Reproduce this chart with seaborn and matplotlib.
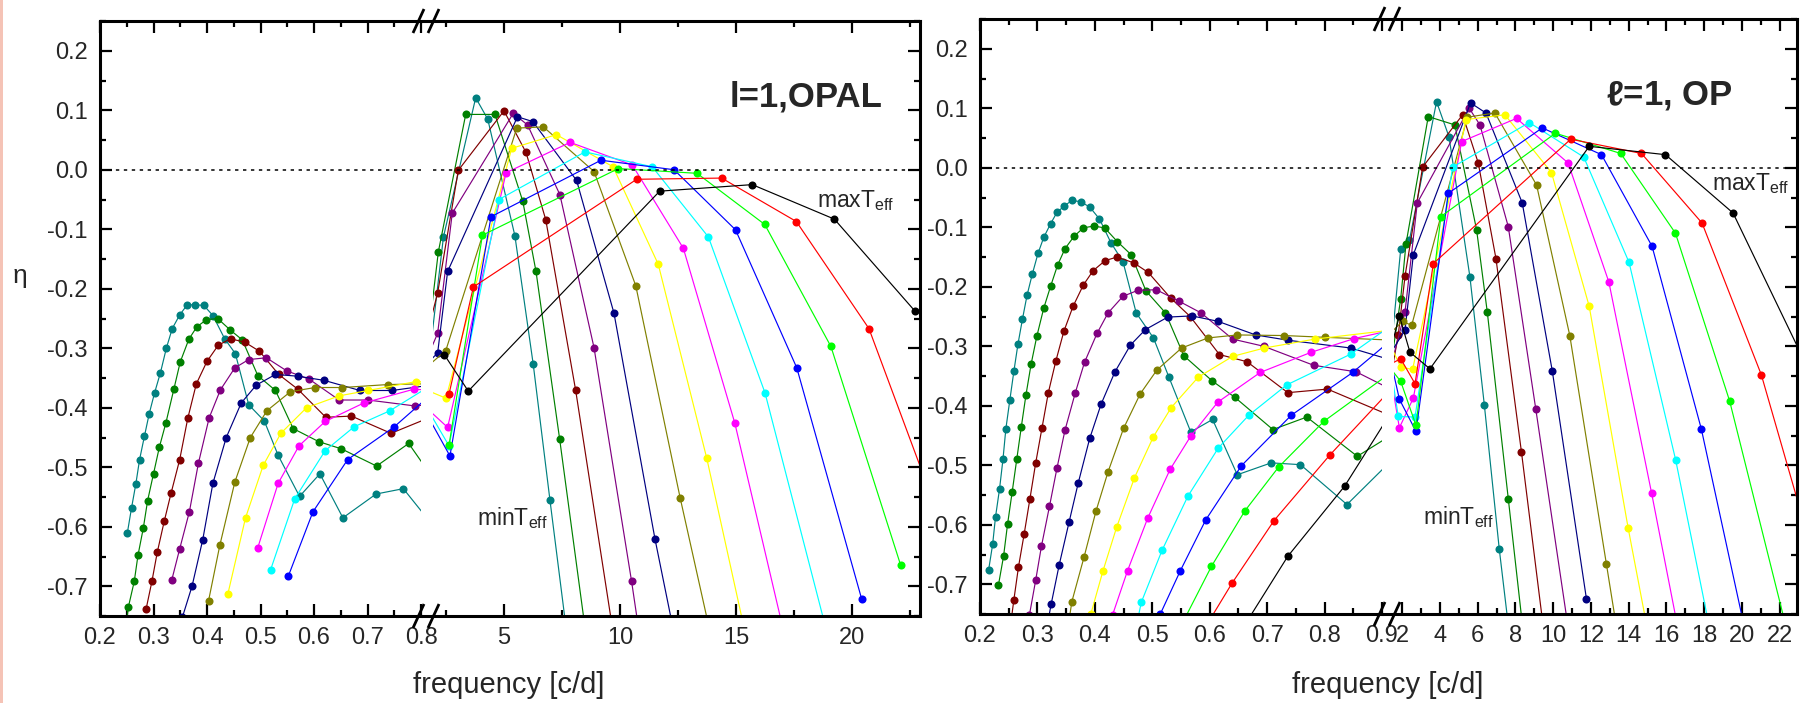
import matplotlib
matplotlib.use("Agg")
import matplotlib.pyplot as plt
import numpy as np
import pandas as pd
import seaborn as sns
from matplotlib.lines import Line2D
from matplotlib.patches import Rectangle
from matplotlib.ticker import FixedLocator, FuncFormatter

# ---------------------------------------------------------------------------
# Instability parameter eta versus mode frequency, dipole modes (l = 1).
# One curve per model, ordered from the coolest (teal) to the hottest (black).
# ---------------------------------------------------------------------------
SERIES = ["teal", "green", "maroon", "purple", "navy", "olive", "yellow",
          "magenta", "cyan", "blue", "lime", "red", "black"]
PALETTE = {"teal": "#008080", "green": "#008000", "maroon": "#800000",
           "purple": "#800080", "navy": "#000080", "olive": "#808000",
           "yellow": "#ffff00", "magenta": "#ff00ff", "cyan": "#00ffff",
           "blue": "#0000ff", "lime": "#00ff00", "red": "#ff0000",
           "black": "#000000"}

# ---- OPAL opacities --------------------------------------------------------
OPAL_TEAL_F = [0.251, 0.259, 0.267, 0.274, 0.283, 0.292, 0.302, 0.313, 0.324, 0.335,
               0.349, 0.363, 0.377, 0.394, 0.411, 0.433, 0.453, 0.478, 0.507, 0.533,
               0.573, 0.611, 0.654, 0.716, 0.767, 0.85,
               2.39, 3.78, 4.30, 5.47, 6.26, 6.98, 8.00]
OPAL_TEAL_ETA = [-0.611, -0.568, -0.528, -0.487, -0.448, -0.410, -0.375, -0.341, -0.300, -0.267,
                 -0.244, -0.227, -0.227, -0.228, -0.245, -0.284, -0.309, -0.395, -0.422, -0.480,
                 -0.549, -0.511, -0.585, -0.545, -0.536, -0.629,
                 -0.113, 0.121, 0.085, -0.111, -0.327, -0.555, -0.87]

OPAL_GREEN_F = [0.247, 0.253, 0.264, 0.271, 0.281, 0.289, 0.300, 0.311, 0.323, 0.338,
                0.350, 0.366, 0.381, 0.399, 0.420, 0.443, 0.466, 0.495, 0.528, 0.561,
                0.609, 0.651, 0.717, 0.777, 0.86,
                2.17, 3.35, 4.61, 5.81, 6.38, 7.40, 8.70]
OPAL_GREEN_ETA = [-0.78, -0.735, -0.692, -0.648, -0.602, -0.556, -0.511, -0.466, -0.426, -0.369,
                  -0.323, -0.285, -0.264, -0.252, -0.250, -0.269, -0.286, -0.346, -0.371, -0.435,
                  -0.457, -0.469, -0.498, -0.460, -0.567,
                  -0.138, 0.093, 0.093, -0.053, -0.171, -0.453, -0.83]

OPAL_MAROON_F = [0.286, 0.297, 0.307, 0.320, 0.333, 0.349, 0.364, 0.380, 0.400, 0.421,
                 0.444, 0.471, 0.498, 0.534, 0.570, 0.622, 0.670, 0.744, 0.85,
                 2.14, 3.03, 5.00, 5.95, 6.80, 8.09, 9.86]
OPAL_MAROON_ETA = [-0.739, -0.692, -0.643, -0.591, -0.543, -0.487, -0.418, -0.360, -0.322, -0.295,
                   -0.284, -0.290, -0.305, -0.344, -0.369, -0.416, -0.414, -0.443, -0.404,
                   -0.207, -0.001, 0.099, 0.029, -0.084, -0.371, -0.817]

OPAL_PURPLE_F = [0.334, 0.349, 0.367, 0.384, 0.404, 0.425, 0.452, 0.478, 0.511, 0.549,
                 0.591, 0.647, 0.701, 0.789,
                 2.14, 2.77, 5.40, 6.02, 7.41, 8.88, 10.50, 11.10]
OPAL_PURPLE_ETA = [-0.690, -0.637, -0.575, -0.493, -0.417, -0.370, -0.333, -0.319, -0.316, -0.338,
                   -0.352, -0.387, -0.387, -0.397,
                   -0.275, -0.073, 0.095, 0.075, -0.042, -0.299, -0.692, -0.85]

OPAL_NAVY_F = [0.354, 0.372, 0.392, 0.411, 0.436, 0.464, 0.492, 0.528, 0.570, 0.619,
               0.686, 0.746, 0.85,
               2.14, 2.57, 5.58, 6.24, 8.13, 9.74, 11.51, 12.70]
OPAL_NAVY_ETA = [-0.752, -0.700, -0.622, -0.527, -0.450, -0.392, -0.362, -0.344, -0.347, -0.354,
                 -0.371, -0.371, -0.358,
                 -0.308, -0.171, 0.089, 0.081, -0.018, -0.241, -0.621, -0.85]

OPAL_OLIVE_F = [0.403, 0.424, 0.452, 0.481, 0.512, 0.556, 0.602, 0.653, 0.738, 0.85,
                2.49, 5.55, 6.70, 8.88, 10.68, 12.59, 14.30]
OPAL_OLIVE_ETA = [-0.724, -0.631, -0.525, -0.450, -0.405, -0.373, -0.366, -0.366, -0.361, -0.359,
                  -0.304, 0.070, 0.072, -0.003, -0.195, -0.551, -0.85]

OPAL_YELLOW_F = [0.439, 0.472, 0.505, 0.538, 0.586, 0.647, 0.701, 0.791,
                 2.50, 5.33, 7.26, 9.70, 11.65, 13.74, 15.80]
OPAL_YELLOW_ETA = [-0.713, -0.585, -0.497, -0.443, -0.400, -0.380, -0.371, -0.356,
                   -0.384, 0.036, 0.059, 0.005, -0.159, -0.485, -0.85]

OPAL_MAGENTA_F = [0.495, 0.533, 0.572, 0.621, 0.693, 0.786,
                  2.57, 5.09, 7.85, 10.53, 12.73, 14.95, 17.50]
OPAL_MAGENTA_ETA = [-0.635, -0.527, -0.464, -0.423, -0.392, -0.369,
                    -0.433, -0.005, 0.046, 0.008, -0.132, -0.426, -0.85]

OPAL_CYAN_F = [0.519, 0.564, 0.621, 0.675, 0.742, 0.85,
               2.63, 4.78, 8.49, 11.39, 13.81, 16.25, 19.40]
OPAL_CYAN_ETA = [-0.672, -0.553, -0.472, -0.432, -0.405, -0.345,
                 -0.464, -0.050, 0.030, 0.005, -0.113, -0.375, -0.85]

OPAL_BLUE_F = [0.552, 0.598, 0.663, 0.750, 0.85,
               2.67, 4.44, 9.18, 12.33, 14.98, 17.62, 20.42]
OPAL_BLUE_ETA = [-0.683, -0.575, -0.487, -0.432, -0.353,
                 -0.481, -0.079, 0.016, 0.000, -0.101, -0.333, -0.722]

OPAL_LIME_F = [2.63, 4.07, 9.93, 13.32, 16.24, 19.09, 22.10]
OPAL_LIME_ETA = [-0.463, -0.110, 0.002, -0.006, -0.092, -0.297, -0.665]

OPAL_RED_F = [2.63, 3.68, 10.72, 14.38, 17.60, 20.73, 24.00]
OPAL_RED_ETA = [-0.377, -0.197, -0.016, -0.014, -0.087, -0.267, -0.61]

OPAL_BLACK_F = [2.43, 3.46, 11.71, 15.70, 19.24, 22.70]
OPAL_BLACK_ETA = [-0.311, -0.372, -0.036, -0.025, -0.083, -0.237]

# ---- OP opacities ----------------------------------------------------------
OP_TEAL_F = [0.215, 0.222, 0.227, 0.234, 0.240, 0.245, 0.252, 0.259, 0.266, 0.274,
             0.282, 0.291, 0.301, 0.311, 0.323, 0.334, 0.347, 0.360, 0.375, 0.391,
             0.408, 0.428, 0.449, 0.472, 0.502, 0.529, 0.567, 0.605, 0.648, 0.707,
             0.758, 0.839, 0.95,
             1.92, 2.38, 3.82, 4.48, 5.59, 6.35, 7.14, 8.00]
OP_TEAL_ETA = [-0.676, -0.633, -0.587, -0.540, -0.490, -0.439, -0.390, -0.342, -0.297, -0.254,
               -0.214, -0.179, -0.144, -0.117, -0.094, -0.075, -0.064, -0.055, -0.057, -0.066,
               -0.086, -0.126, -0.158, -0.244, -0.286, -0.352, -0.444, -0.423, -0.516, -0.496,
               -0.499, -0.566, -0.460,
               -0.137, -0.122, 0.111, 0.052, -0.184, -0.398, -0.640, -0.87]

OP_GREEN_F = [0.232, 0.241, 0.248, 0.256, 0.264, 0.272, 0.280, 0.289, 0.299, 0.311,
              0.323, 0.335, 0.348, 0.364, 0.380, 0.398, 0.417, 0.439, 0.463, 0.489,
              0.523, 0.555, 0.604, 0.644, 0.710, 0.769, 0.857, 0.95,
              1.92, 2.20, 3.38, 4.79, 5.94, 6.51, 7.62, 8.80]
OP_GREEN_ETA = [-0.702, -0.653, -0.599, -0.545, -0.490, -0.435, -0.382, -0.330, -0.283, -0.236,
                -0.199, -0.164, -0.136, -0.115, -0.101, -0.098, -0.101, -0.124, -0.146, -0.207,
                -0.244, -0.316, -0.358, -0.386, -0.440, -0.419, -0.485, -0.429,
                -0.220, -0.128, 0.086, 0.072, -0.104, -0.243, -0.556, -0.89]

OP_MAROON_F = [0.253, 0.259, 0.267, 0.277, 0.287, 0.297, 0.308, 0.319, 0.332, 0.346,
               0.362, 0.380, 0.397, 0.418, 0.439, 0.468, 0.493, 0.532, 0.566, 0.617,
               0.665, 0.736, 0.805, 0.95,
               1.79, 2.15, 3.08, 5.20, 6.03, 6.97, 8.32, 9.90]
OP_MAROON_ETA = [-0.77, -0.726, -0.671, -0.615, -0.556, -0.496, -0.437, -0.378, -0.325, -0.275,
                 -0.233, -0.197, -0.173, -0.156, -0.150, -0.160, -0.176, -0.219, -0.250, -0.314,
                 -0.326, -0.378, -0.372, -0.431,
                 -0.281, -0.182, 0.001, 0.089, 0.008, -0.153, -0.478, -0.88]

OP_PURPLE_F = [0.286, 0.297, 0.307, 0.321, 0.334, 0.348, 0.366, 0.382, 0.404, 0.423,
               0.449, 0.475, 0.507, 0.546, 0.585, 0.640, 0.694, 0.781, 0.855, 0.95,
               2.15, 2.80, 5.55, 6.12, 7.62, 9.08, 11.20]
OP_PURPLE_ETA = [-0.752, -0.693, -0.636, -0.569, -0.505, -0.441, -0.378, -0.327, -0.278, -0.244,
                 -0.216, -0.206, -0.205, -0.224, -0.244, -0.288, -0.300, -0.332, -0.343, -0.389,
                 -0.242, -0.059, 0.100, 0.072, -0.099, -0.406, -0.86]

OP_NAVY_F = [0.315, 0.324, 0.338, 0.355, 0.371, 0.391, 0.411, 0.435, 0.462, 0.488,
             0.527, 0.569, 0.614, 0.680, 0.737, 0.846, 0.95,
             2.15, 2.59, 5.62, 6.44, 8.36, 9.95, 11.76]
OP_NAVY_ETA = [-0.78, -0.733, -0.667, -0.596, -0.530, -0.455, -0.397, -0.343, -0.298, -0.272,
               -0.251, -0.249, -0.258, -0.281, -0.290, -0.303, -0.333,
               -0.273, -0.146, 0.109, 0.092, -0.059, -0.341, -0.724]

OP_OLIVE_F = [0.352, 0.360, 0.381, 0.402, 0.423, 0.450, 0.479, 0.508, 0.551, 0.597,
              0.648, 0.730, 0.801, 0.95,
              2.02, 2.50, 5.45, 6.91, 9.12, 10.88, 12.82, 13.90]
OP_OLIVE_ETA = [-0.78, -0.729, -0.655, -0.577, -0.511, -0.438, -0.380, -0.340, -0.303, -0.286,
                -0.281, -0.282, -0.285, -0.291,
                -0.258, -0.265, 0.085, 0.092, -0.029, -0.282, -0.666, -0.88]

OP_YELLOW_F = [0.385, 0.393, 0.414, 0.438, 0.469, 0.502, 0.533, 0.580, 0.640, 0.695,
               0.783, 0.95,
               1.92, 2.55, 5.38, 7.44, 9.91, 11.91, 13.97, 15.50]
OP_YELLOW_ETA = [-0.79, -0.750, -0.678, -0.604, -0.521, -0.452, -0.403, -0.352, -0.317, -0.303,
                 -0.288, -0.269,
                 -0.335, -0.339, 0.081, 0.089, -0.008, -0.233, -0.605, -0.86]

OP_MAGENTA_F = [0.420, 0.431, 0.457, 0.492, 0.531, 0.567, 0.614, 0.688, 0.777, 0.852, 0.95,
                1.85, 2.59, 5.15, 8.06, 10.79, 12.95, 15.21, 17.20]
OP_MAGENTA_ETA = [-0.79, -0.751, -0.677, -0.589, -0.507, -0.451, -0.394, -0.344, -0.310, -0.287, -0.266,
                  -0.437, -0.387, 0.044, 0.083, 0.008, -0.192, -0.546, -0.87]

OP_CYAN_F = [0.470, 0.481, 0.517, 0.562, 0.615, 0.668, 0.734, 0.846, 0.95,
             1.79, 2.68, 4.67, 8.73, 11.62, 14.02, 16.49, 18.90]
OP_CYAN_ETA = [-0.78, -0.730, -0.643, -0.552, -0.471, -0.416, -0.365, -0.313, -0.242,
               -0.418, -0.419, 0.001, 0.076, 0.018, -0.159, -0.491, -0.87]

OP_BLUE_F = [0.505, 0.514, 0.549, 0.593, 0.655, 0.742, 0.849, 0.95,
             1.85, 2.73, 4.44, 9.42, 12.56, 15.24, 17.85, 20.80]
OP_BLUE_ETA = [-0.79, -0.750, -0.677, -0.592, -0.501, -0.416, -0.344, -0.262,
               -0.389, -0.443, -0.043, 0.067, 0.022, -0.132, -0.439, -0.87]

OP_LIME_F = [0.550, 0.603, 0.661, 0.720, 0.799, 0.95,
             1.92, 2.73, 4.05, 10.12, 13.58, 16.48, 19.35, 22.80]
OP_LIME_ETA = [-0.77, -0.670, -0.577, -0.503, -0.426, -0.320,
               -0.359, -0.433, -0.082, 0.058, 0.024, -0.110, -0.392, -0.83]

OP_RED_F = [0.600, 0.639, 0.712, 0.809, 0.95,
            1.92, 2.68, 3.65, 10.93, 14.68, 17.89, 21.03, 23.50]
OP_RED_ETA = [-0.76, -0.698, -0.593, -0.483, -0.337,
              -0.321, -0.363, -0.161, 0.048, 0.024, -0.093, -0.348, -0.62]

OP_BLACK_F = [0.660, 0.736, 0.835, 0.95,
              1.85, 2.41, 3.47, 11.91, 15.95, 19.53, 24.00]
OP_BLACK_ETA = [-0.77, -0.653, -0.535, -0.359,
                -0.249, -0.310, -0.338, 0.036, 0.022, -0.076, -0.37]

OPAL = {"teal": (OPAL_TEAL_F, OPAL_TEAL_ETA), "green": (OPAL_GREEN_F, OPAL_GREEN_ETA),
        "maroon": (OPAL_MAROON_F, OPAL_MAROON_ETA), "purple": (OPAL_PURPLE_F, OPAL_PURPLE_ETA),
        "navy": (OPAL_NAVY_F, OPAL_NAVY_ETA), "olive": (OPAL_OLIVE_F, OPAL_OLIVE_ETA),
        "yellow": (OPAL_YELLOW_F, OPAL_YELLOW_ETA), "magenta": (OPAL_MAGENTA_F, OPAL_MAGENTA_ETA),
        "cyan": (OPAL_CYAN_F, OPAL_CYAN_ETA), "blue": (OPAL_BLUE_F, OPAL_BLUE_ETA),
        "lime": (OPAL_LIME_F, OPAL_LIME_ETA), "red": (OPAL_RED_F, OPAL_RED_ETA),
        "black": (OPAL_BLACK_F, OPAL_BLACK_ETA)}
OP = {"teal": (OP_TEAL_F, OP_TEAL_ETA), "green": (OP_GREEN_F, OP_GREEN_ETA),
      "maroon": (OP_MAROON_F, OP_MAROON_ETA), "purple": (OP_PURPLE_F, OP_PURPLE_ETA),
      "navy": (OP_NAVY_F, OP_NAVY_ETA), "olive": (OP_OLIVE_F, OP_OLIVE_ETA),
      "yellow": (OP_YELLOW_F, OP_YELLOW_ETA), "magenta": (OP_MAGENTA_F, OP_MAGENTA_ETA),
      "cyan": (OP_CYAN_F, OP_CYAN_ETA), "blue": (OP_BLUE_F, OP_BLUE_ETA),
      "lime": (OP_LIME_F, OP_LIME_ETA), "red": (OP_RED_F, OP_RED_ETA),
      "black": (OP_BLACK_F, OP_BLACK_ETA)}


def to_frame(curves):
    rows = []
    for name in SERIES:
        f, e = curves[name]
        if len(f) != len(e):
            raise ValueError(f"length mismatch in {name}")
        rows += [(name, fx, ex) for fx, ex in zip(f, e)]
    return pd.DataFrame(rows, columns=["model", "freq", "eta"])


# ---------------------------------------------------------------------------
sns.set_style("ticks")
plt.rcParams["font.family"] = ["Liberation Sans", "DejaVu Sans"]
plt.rcParams["axes.unicode_minus"] = False
plt.rcParams["mathtext.default"] = "regular"

W, H = 1812, 703
fig = plt.figure(figsize=(W / 100, H / 100), dpi=100)
fig.patch.set_facecolor("white")

SPINE_W = 2.2
TICK_FS = 17
Y_MAJOR = [-0.7, -0.6, -0.5, -0.4, -0.3, -0.2, -0.1, 0.0, 0.1, 0.2]
Y_MINOR = [-0.75, -0.65, -0.55, -0.45, -0.35, -0.25, -0.15, -0.05, 0.05, 0.15, 0.25]


def px_axes(x0, x1, ytop, ybot):
    return fig.add_axes([x0 / W, 1 - ybot / H, (x1 - x0) / W, (ybot - ytop) / H])


def draw_curves(ax, df):
    sns.lineplot(data=df, x="freq", y="eta", hue="model", hue_order=SERIES,
                 palette=PALETTE, sort=False, estimator=None, marker="o",
                 markersize=5.8, markeredgewidth=0, linewidth=0.85,
                 legend=False, ax=ax)
    ax.axhline(0.0, color="black", lw=1.1, ls=(0, (2.2, 3.0)), zorder=5)


def style(ax, xlim, xmaj, xmin, xfmt, side):
    ax.set_xlim(*xlim)
    ax.set_ylim(-0.75, 0.25)
    ax.set_xlabel("")
    ax.set_ylabel("")
    ax.set_facecolor("none")
    ax.xaxis.set_major_locator(FixedLocator(xmaj))
    ax.xaxis.set_minor_locator(FixedLocator(xmin))
    ax.xaxis.set_major_formatter(FuncFormatter(xfmt))
    ax.yaxis.set_major_locator(FixedLocator(Y_MAJOR))
    ax.yaxis.set_minor_locator(FixedLocator(Y_MINOR))
    ax.yaxis.set_major_formatter(FuncFormatter(lambda v, p: f"{v:.1f}".replace("-0.0", "0.0")))
    for s in ax.spines.values():
        s.set_linewidth(SPINE_W)
        s.set_color("black")
    left = side == "left"
    ax.spines["right"].set_visible(not left)
    ax.spines["left"].set_visible(left)
    ax.tick_params(which="both", direction="in", top=True, bottom=True,
                   left=left, right=not left, labelleft=left, labelright=False,
                   width=1.6, color="black", labelsize=TICK_FS)
    ax.tick_params(which="major", length=8.5)
    ax.tick_params(which="minor", length=4.5)
    ax.tick_params(axis="x", pad=8)
    ax.tick_params(axis="y", pad=9)


def fig_line(xs, ys, lw=SPINE_W):
    fig.add_artist(Line2D([x / W for x in xs], [1 - y / H for y in ys],
                          color="black", lw=lw, solid_capstyle="butt"))


def axis_break(x_end, x_start, xc, ytop, ybot):
    for y in (ytop, ybot):
        fig_line([x_end, x_start], [y, y])
        for dx in (-7.5, 7.5):
            fig_line([xc + dx - 5.5, xc + dx + 5.5], [y + 12, y - 12], lw=2.0)


fmt_low = lambda v, p: f"{v:.1f}"
fmt_high = lambda v, p: f"{v:g}"

# ---- left panel: OPAL -------------------------------------------------------
opal_df = to_frame(OPAL)
a_low = px_axes(100, 421, 21, 616)
a_high = px_axes(433, 920, 21, 616)
for ax in (a_low, a_high):
    draw_curves(ax, opal_df)
style(a_low, (0.2, 0.8), [0.2, 0.3, 0.4, 0.5, 0.6, 0.7, 0.8],
      [0.25, 0.35, 0.45, 0.55, 0.65, 0.75], fmt_low, "left")
style(a_high, (1.94, 22.93), [5, 10, 15, 20], [2.5, 7.5, 12.5, 17.5, 22.5],
      fmt_high, "right")
axis_break(421, 433, 426, 21, 616)

# ---- right panel: OP --------------------------------------------------------
op_df = to_frame(OP)
b_low = px_axes(980, 1382, 19, 614)
b_high = px_axes(1394, 1797, 19, 614)
for ax in (b_low, b_high):
    draw_curves(ax, op_df)
style(b_low, (0.2, 0.9), [0.2, 0.3, 0.4, 0.5, 0.6, 0.7, 0.8, 0.9],
      [0.25, 0.35, 0.45, 0.55, 0.65, 0.75, 0.85], fmt_low, "left")
style(b_high, (1.565, 22.92), list(range(2, 23, 2)), list(range(3, 23, 2)),
      fmt_high, "right")
axis_break(1382, 1394, 1387, 19, 614)

# ---- annotations ------------------------------------------------------------
def ftext(x, y, s, **kw):
    fig.text(x / W, 1 - y / H, s, **kw)


ftext(730, 107, "l=1,OPAL", fontsize=25, fontweight="bold", ha="left", va="baseline")
ftext(1606, 105, r"$\ell$=1, OP", fontsize=25, fontweight="bold", ha="left", va="baseline")
ftext(817, 207, r"maxT$_{eff}$", fontsize=16.5, ha="left", va="baseline")
ftext(1712, 190, r"maxT$_{eff}$", fontsize=16.5, ha="left", va="baseline")
ftext(477, 525, r"minT$_{eff}$", fontsize=16.5, ha="left", va="baseline")
ftext(1423, 524, r"minT$_{eff}$", fontsize=16.5, ha="left", va="baseline")
ftext(509, 685, "frequency [c/d]", fontsize=21, ha="center", va="center")
ftext(1388, 685, "frequency [c/d]", fontsize=21, ha="center", va="center")
ftext(20, 276, "η", fontsize=19, ha="center", va="center")

# thin salmon border along the left edge of the page
fig.add_artist(Rectangle((0, 0), 3 / W, 1, transform=fig.transFigure,
                         facecolor="#f5c3b6", edgecolor="none"))

fig.savefig("out.png", dpi=100)
